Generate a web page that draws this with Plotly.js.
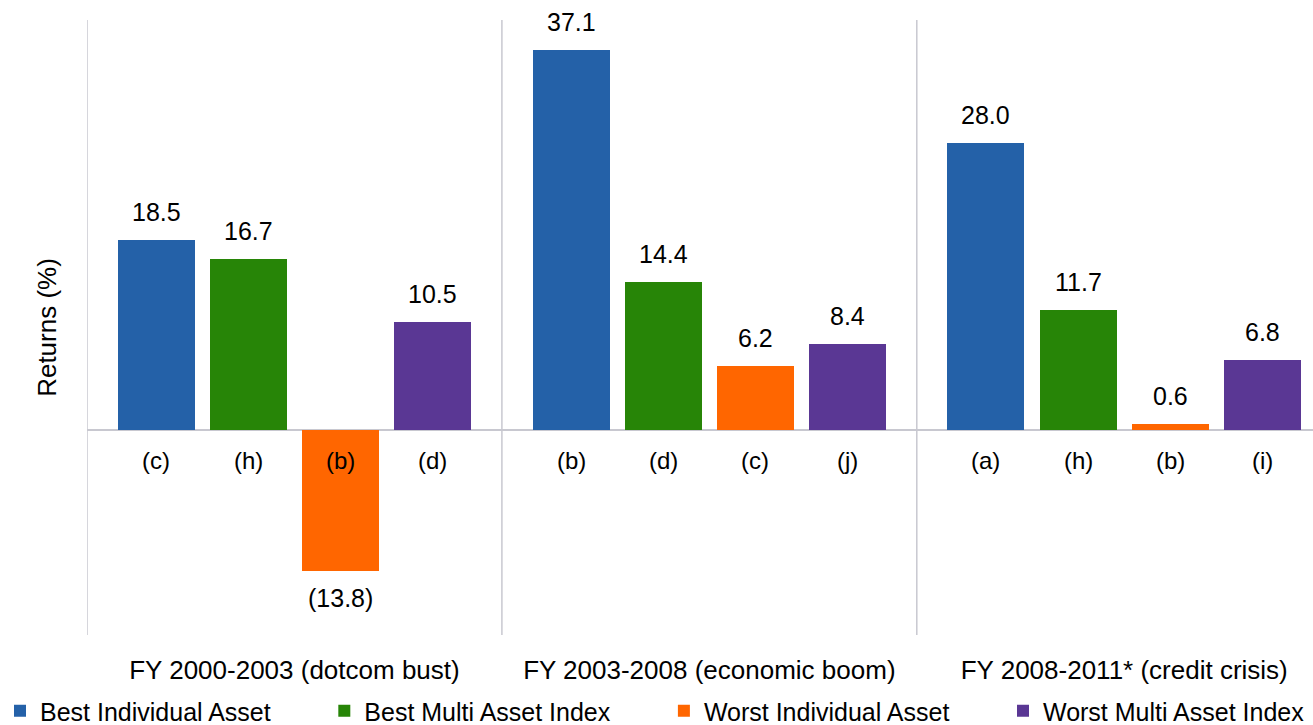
<!DOCTYPE html>
<html>
<head>
<meta charset="utf-8">
<script src="https://cdn.plot.ly/plotly-3.0.1.min.js"></script>
<style>html,body{margin:0;padding:0;background:#fff;overflow:hidden;height:725px}#chart{width:1313px;height:734px}</style>
</head>
<body>
<div id="chart"></div>
<script>
// ---- data ----
const periods = ['FY 2000-2003 (dotcom bust)', 'FY 2003-2008 (economic boom)', 'FY 2008-2011* (credit crisis)'];
const seriesNames = ['Best Individual Asset', 'Best Multi Asset Index', 'Worst Individual Asset', 'Worst Multi Asset Index'];
const bestIndividual = [18.5, 37.1, 28.0];
const bestMulti = [16.7, 14.4, 11.7];
const worstIndividual = [-13.8, 6.2, 0.6];
const worstMulti = [10.5, 8.4, 6.8];
const bestIndividualIds = ['(c)', '(b)', '(a)'];
const bestMultiIds = ['(h)', '(d)', '(h)'];
const worstIndividualIds = ['(b)', '(c)', '(b)'];
const worstMultiIds = ['(d)', '(j)', '(i)'];

const seriesValues = [bestIndividual, bestMulti, worstIndividual, worstMulti];
const seriesIds = [bestIndividualIds, bestMultiIds, worstIndividualIds, worstMultiIds];
const colors = ['#2461A8', '#278507', '#FF6600', '#5A3794'];

// ---- layout helpers ----
const GROUP_SPAN = 4.5, FIRST = 0.75;
const xPos = (g, i) => g * GROUP_SPAN + FIRST + i;
const fmt = v => v < 0 ? '(' + Math.abs(v).toFixed(1) + ')' : v.toFixed(1);
const FONT = 'Liberation Sans, Arial, sans-serif';
const pad = '\u00a0'.repeat(7);
const FIG_H = 734, PLOT_W = 1226, PLOT_H = 615, M_L = 87, M_T = 20;
const M_B = FIG_H - M_T - PLOT_H;

const traces = seriesNames.map((name, i) => ({
  type: 'bar',
  name: i < seriesNames.length - 1 ? name + pad : name,
  x: periods.map((p, g) => xPos(g, i)),
  y: seriesValues[i],
  width: 0.835,
  marker: {color: colors[i]},
  hoverinfo: 'skip'
}));

const annotations = [];
seriesNames.forEach((name, i) => {
  periods.forEach((p, g) => {
    const v = seriesValues[i][g];
    annotations.push({
      x: xPos(g, i), y: v, xref: 'x', yref: 'y',
      text: fmt(v), showarrow: false,
      yanchor: v >= 0 ? 'bottom' : 'top',
      yshift: v >= 0 ? 12 : -11,
      font: {family: FONT, size: 25, color: '#000'}
    });
    annotations.push({
      x: xPos(g, i), y: 0, xref: 'x', yref: 'y',
      text: seriesIds[i][g], showarrow: false,
      yanchor: 'top', yshift: -15,
      font: {family: FONT, size: 24, color: '#000'}
    });
  });
});

const shapes = periods.map((p, g) => ({
  type: 'line', xref: 'x', yref: 'paper',
  x0: g * GROUP_SPAN, x1: g * GROUP_SPAN, y0: 0, y1: 1,
  line: {color: '#C8C8D0', width: 1.5}, layer: 'below'
}));

const layout = {
  width: 1313, height: FIG_H,
  margin: {l: M_L, r: 0, t: M_T, b: M_B},
  paper_bgcolor: '#fff', plot_bgcolor: '#fff',
  font: {family: FONT, size: 26, color: '#000'},
  bargap: 0,
  showlegend: true,
  xaxis: {
    range: [0, PLOT_W / 92.2],
    tickvals: periods.map((p, g) => g * GROUP_SPAN + GROUP_SPAN / 2),
    ticktext: periods,
    ticks: '', showgrid: false, zeroline: false, showline: false,
    ticklabelstandoff: 17,
    tickfont: {family: FONT, size: 26, color: '#000'},
    fixedrange: true
  },
  yaxis: {
    range: [-20, 40],
    showticklabels: false, ticks: '', showgrid: false, showline: false,
    zeroline: true, zerolinecolor: '#C8C8D0', zerolinewidth: 1.5,
    title: {text: 'Returns (%)', standoff: 21, font: {family: FONT, size: 26, color: '#000'}},
    fixedrange: true
  },
  legend: {
    orientation: 'h', xref: 'paper', yref: 'paper',
    x: -M_L / PLOT_W, y: -M_B / PLOT_H, xanchor: 'left', yanchor: 'bottom',
    font: {family: FONT, size: 25, color: '#000'},
    itemwidth: 30, traceorder: 'normal'
  },
  annotations: annotations,
  shapes: shapes
};

Plotly.newPlot('chart', traces, layout, {displayModeBar: false, staticPlot: true});
</script>
</body>
</html>
